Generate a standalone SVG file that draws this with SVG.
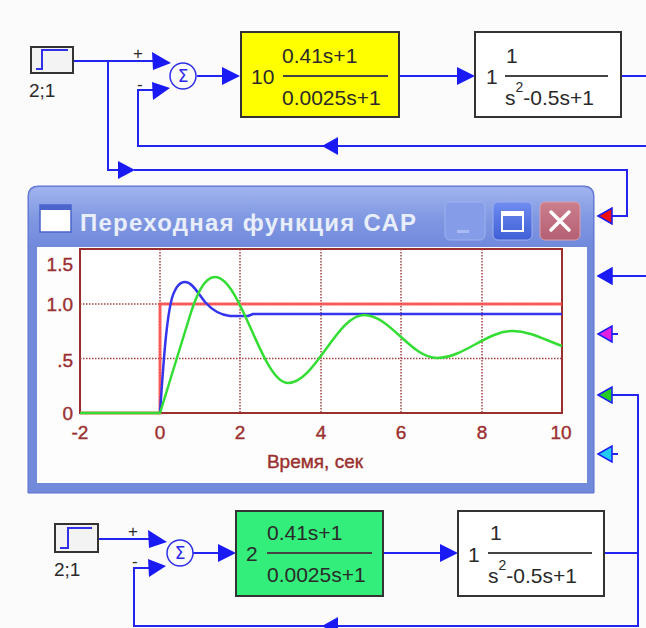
<svg xmlns="http://www.w3.org/2000/svg" width="646" height="628" viewBox="0 0 646 628">
<defs>
<linearGradient id="tb" x1="0" y1="0" x2="0" y2="1">
<stop offset="0" stop-color="#a2b4f0"/><stop offset="0.5" stop-color="#8199e2"/><stop offset="1" stop-color="#7189dc"/>
</linearGradient>
<linearGradient id="mx" x1="0" y1="0" x2="0" y2="1">
<stop offset="0" stop-color="#6f8cf0"/><stop offset="1" stop-color="#3f5fd6"/>
</linearGradient>
<linearGradient id="cl" x1="0" y1="0" x2="0" y2="1">
<stop offset="0" stop-color="#cc7f8e"/><stop offset="1" stop-color="#b45f72"/>
</linearGradient>
</defs>
<style>
.w{stroke:#2424f0;stroke-width:2;fill:none}
.ah{fill:#1a1af5;stroke:none}
.box{stroke:#333;stroke-width:2}
.t{font-family:"Liberation Sans",Arial,sans-serif;fill:#2a2a2a}
.f{font-size:21px}
.ax{font-family:"Liberation Sans",Arial,sans-serif;font-size:19px;fill:#9b3030;stroke:#9b3030;stroke-width:0.4}
.grid{stroke:#a04040;stroke-width:1.5;stroke-dasharray:1.5 1.5;fill:none}
.fl{stroke:#444;stroke-width:2}
.pin{stroke:#1a1af5;stroke-width:1.5}
</style>
<rect width="646" height="628" fill="#fafbfa"/>

<g id="connectors">
<path class="w" d="M73,61 H153"/>
<path class="w" d="M108,61 V170 H120"/>
<path class="w" d="M134,170 H627 V216 H612"/>
<path class="w" d="M646,146 H338"/>
<path class="w" d="M324,146 H138 V90 H153"/>
<path class="w" d="M197,76 H222"/>
<path class="w" d="M399,76 H457"/>
<path class="w" d="M621,76 H646"/>
<path class="w" d="M646,276 H612"/>
<path class="w" d="M612,334 H618"/>
<path class="w" d="M612,454 H618"/>
<path class="w" d="M612,395 H638 V626 H338"/>
<path class="w" d="M604,553 H638"/>
<path class="w" d="M324,626 H134 V568 H149"/>
<path class="w" d="M98,539 H149"/>
<path class="w" d="M193,553 H219"/>
<path class="w" d="M383,553 H441"/>
<polygon class="ah" points="152,52 153,70 171,63"/>
<polygon class="ah" points="152,82 153,100 170,88"/>
<polygon class="ah" points="118,161 118,179 135,170"/>
<polygon class="ah" points="322,146 338,137 338,155"/>
<polygon class="ah" points="222,67 222,85 240,76"/>
<polygon class="ah" points="457,67 457,85 475,76"/>
<polygon class="ah" points="148,530 149,548 167,542"/>
<polygon class="ah" points="148,559 149,577 166,566"/>
<polygon class="ah" points="218,544 218,562 236,553"/>
<polygon class="ah" points="440,544 440,562 458,553"/>
<polygon class="ah" points="322,626 338,617 338,635"/>
<polygon class="pin" fill="#ee1010" points="598,216 612,208 612,224"/>
<polygon class="pin" fill="#1a1af5" points="598,276 612,268 612,284"/>
<polygon class="pin" fill="#e020e0" points="598,334 612,326 612,342"/>
<polygon class="pin" fill="#22cc22" points="598,395 612,387 612,403"/>
<polygon class="pin" fill="#22ccee" points="598,454 612,446 612,462"/>
</g>

<g id="step1">
<rect x="31" y="47" width="42" height="26" fill="#f3f3f3" class="box"/>
<path d="M36,69 H42 V50 H68" stroke="#3030e8" stroke-width="2" fill="none"/>
<text class="t" x="29" y="97" font-size="19">2;1</text>
</g>
<g id="sum1">
<circle cx="183" cy="76" r="13" fill="#fafbfa" stroke="#3030e8" stroke-width="1.5"/>
<text x="183" y="82" text-anchor="middle" font-family="DejaVu Sans,sans-serif" font-size="17" fill="#2a2ae8">Σ</text>
<text class="t" x="133" y="59" font-size="17">+</text>
<text class="t" x="137" y="90" font-size="17">-</text>
</g>
<g id="pid1">
<rect x="241" y="32" width="158" height="85" fill="#ffff00" class="box"/>
<text class="t f" x="251" y="84">10</text>
<text class="t f" x="282" y="63">0.41s+1</text>
<line x1="283" y1="76" x2="388" y2="76" class="fl"/>
<text class="t f" x="282" y="105">0.0025s+1</text>
</g>
<g id="plant1">
<rect x="475" y="32" width="146" height="85" fill="#fff" class="box"/>
<text class="t f" x="486" y="84">1</text>
<text class="t f" x="506" y="63">1</text>
<line x1="505" y1="76" x2="608" y2="76" class="fl"/>
<text class="t f" x="505" y="105">s<tspan dy="-13" font-size="14">2</tspan><tspan dy="13">-0.5s+1</tspan></text>
</g>

<g id="step2">
<rect x="55" y="524" width="43" height="28" fill="#f3f3f3" class="box"/>
<path d="M60,548 H68 V528 H92" stroke="#3030e8" stroke-width="2" fill="none"/>
<text class="t" x="54" y="576" font-size="19">2;1</text>
</g>
<g id="sum2">
<circle cx="180" cy="553" r="13" fill="#fafbfa" stroke="#3030e8" stroke-width="1.5"/>
<text x="180" y="559" text-anchor="middle" font-family="DejaVu Sans,sans-serif" font-size="17" fill="#2a2ae8">Σ</text>
<text class="t" x="128" y="537" font-size="17">+</text>
<text class="t" x="132" y="567" font-size="17">-</text>
</g>
<g id="pid2">
<rect x="236" y="511" width="147" height="85" fill="#33ee7a" class="box"/>
<text class="t f" x="246" y="561">2</text>
<text class="t f" x="267" y="540">0.41s+1</text>
<line x1="267" y1="553" x2="372" y2="553" class="fl"/>
<text class="t f" x="267" y="582">0.0025s+1</text>
</g>
<g id="plant2">
<rect x="458" y="511" width="146" height="85" fill="#fff" class="box"/>
<text class="t f" x="468" y="562">1</text>
<text class="t f" x="490" y="540">1</text>
<line x1="488" y1="553" x2="592" y2="553" class="fl"/>
<text class="t f" x="488" y="583">s<tspan dy="-13" font-size="14">2</tspan><tspan dy="13">-0.5s+1</tspan></text>
</g>

<g id="scope">
<path d="M28,493 V196 Q28,186 38,186 H584 Q594,186 594,196 V493 Z" fill="#7289dc" stroke="#5c70cf" stroke-width="1"/>
<path d="M29,247 V197 Q29,187 39,187 H583 Q593,187 593,197 V247 Z" fill="url(#tb)"/>
<rect x="37" y="247" width="550" height="236" fill="#fdfdfd"/>
<rect x="40" y="205" width="31" height="27" fill="#fff" stroke="#4a64cc" stroke-width="1.5"/>
<rect x="40" y="205" width="31" height="5" fill="#4a64cc"/>
<text x="80" y="231" font-family="Liberation Sans,Arial,sans-serif" font-size="24" font-weight="bold" fill="#e8eefb" textLength="336" lengthAdjust="spacing">Переходная функция САР</text>
<rect x="445" y="202" width="40" height="38" rx="5" fill="#859de8" stroke="#9db0ee" stroke-width="1"/>
<rect x="457" y="230" width="12" height="3" fill="#a9bbf2"/>
<rect x="493" y="202" width="39" height="38" rx="5" fill="url(#mx)" stroke="#9db0ee" stroke-width="1"/>
<rect x="502" y="212" width="21" height="19" fill="none" stroke="#fff" stroke-width="2"/>
<rect x="502" y="212" width="21" height="4" fill="#fff"/>
<rect x="540" y="202" width="40" height="38" rx="5" fill="url(#cl)" stroke="#d9a0ac" stroke-width="1"/>
<path d="M551,212 L569,230 M569,212 L551,230" stroke="#fff" stroke-width="3.5" stroke-linecap="round"/>

<rect x="80" y="249" width="482" height="164" fill="#fff" stroke="#9b2f2f" stroke-width="2"/>
<path class="grid" d="M160,249 V413 M240,249 V413 M321,249 V413 M401,249 V413 M482,249 V413 M80,304 H562 M80,358.5 H562"/>
<path d="M80,413 H160 V304 H562" stroke="#ff4a4a" stroke-width="3" fill="none" stroke-opacity="0.85"/>
<path d="M160,413 C163,370 166,320 172,298 C176,285 181,282 185,282 C192,282 197,292 205,302 C213,311 220,315 230,316 L248,316 L253,314 L562,314" stroke="#3535ee" stroke-width="2.5" fill="none" stroke-linejoin="round"/>
<path d="M80,413 H160 L188,322 C196,295 204,277 215,277 C241,277 262,383 288,383 C315,383 337,315 364,315 C390,315 411,358 437,358 C464,358 486,331 513,331 C530,331 545,340 562,346" stroke="#33dd33" stroke-width="2.5" fill="none" stroke-linejoin="round"/>
<text class="ax" x="73" y="271" text-anchor="end">1.5</text>
<text class="ax" x="73" y="311" text-anchor="end">1.0</text>
<text class="ax" x="73" y="367" text-anchor="end">.5</text>
<text class="ax" x="73" y="420" text-anchor="end">0</text>
<text class="ax" x="80" y="439" text-anchor="middle">-2</text>
<text class="ax" x="160" y="439" text-anchor="middle">0</text>
<text class="ax" x="240" y="439" text-anchor="middle">2</text>
<text class="ax" x="321" y="439" text-anchor="middle">4</text>
<text class="ax" x="401" y="439" text-anchor="middle">6</text>
<text class="ax" x="482" y="439" text-anchor="middle">8</text>
<text class="ax" x="561" y="439" text-anchor="middle">10</text>
<text class="ax" x="315" y="468" text-anchor="middle" font-size="19" stroke-width="0.2">Время, сек</text>
</g>
</svg>
